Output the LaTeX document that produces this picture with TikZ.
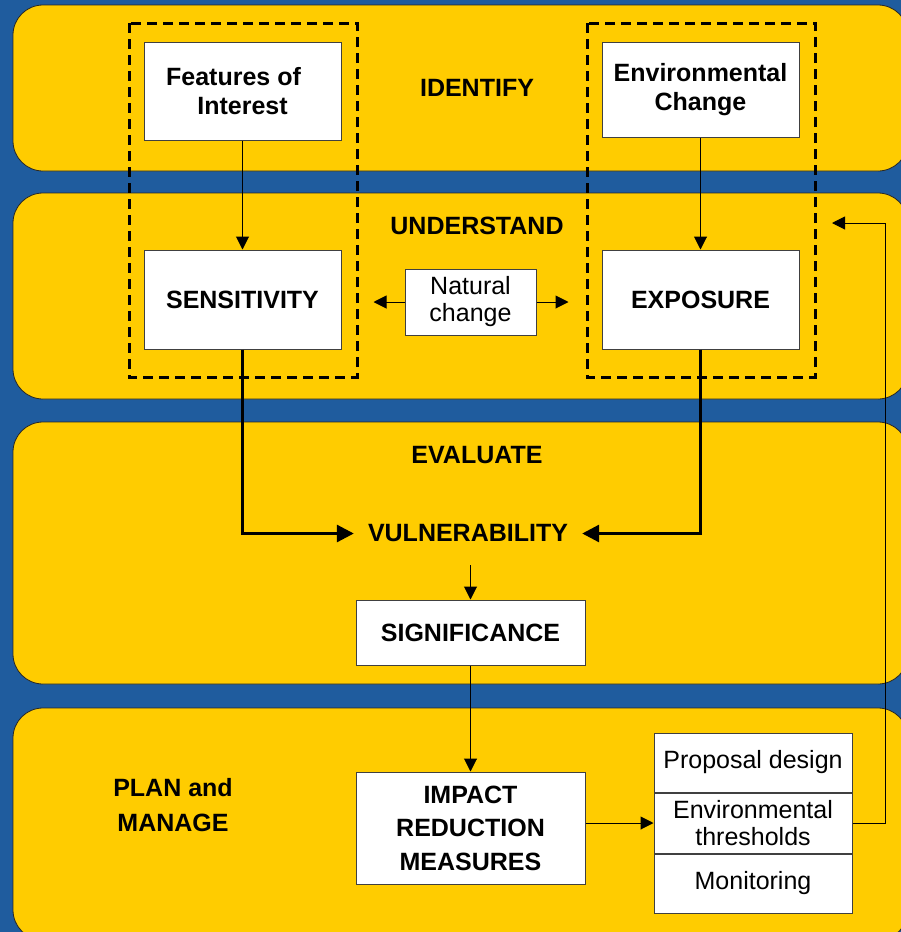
\documentclass[tikz,border=0pt]{standalone}
\usepackage{fontspec}
\setmainfont{Liberation Sans}
\usepackage{tikz}
\usetikzlibrary{positioning,arrows.meta}
\definecolor{bandblue}{RGB}{31,92,158}
\definecolor{bandyellow}{RGB}{255,204,0}
\tikzset{
  % --- stage bands -----------------------------------------------------------
  band/.style={fill=bandyellow,draw=black!85,line width=0.8pt,rounded corners=30pt},
  stage/.style={font=\fontsize{25}{35}\selectfont\bfseries,inner sep=0pt,align=center},
  % --- boxes -----------------------------------------------------------------
  box/.style={draw=black!75,line width=1pt,fill=white,align=center,inner sep=2pt,
              font=\fontsize{25}{29}\selectfont\bfseries},
  subbox/.style={box,font=\fontsize{25}{27}\selectfont,minimum width=198pt},
  grp/.style={draw=black,line width=3pt,dash pattern=on 10pt off 6pt},
  % --- links -----------------------------------------------------------------
  ln/.style={-{Triangle[length=13pt,width=13pt]},line width=1pt},
  thk/.style={-{Triangle[length=17pt,width=17pt]},line width=3pt},
}

\begin{document}
\begin{tikzpicture}[x=1pt,y=-1pt]
  \useasboundingbox (0,0) rectangle (901,932);
  \clip (0,0) rectangle (901,932);
  \fill[bandblue] (0,0) rectangle (901,932);
  % four stages
  \draw[band] (13,5) rectangle (908,171);
  \draw[band] (13,193) rectangle (908,399);
  \draw[band] (13,422) rectangle (908,684);
  \draw[band] (13,708) rectangle (908,940);
  \node[stage] (idf) at (477,88) {IDENTIFY};
  \node[stage] (und) at (477,226) {UNDERSTAND};
  \node[stage] (evl) at (477,455) {EVALUATE};
  \node[stage] (plan) at (173,805) {PLAN and\\MANAGE};
  % receptor / pressure columns
  \draw[grp] (129,23) rectangle (357,377);
  \draw[grp] (587,23) rectangle (815,377);
  \node[box,minimum width=197pt,minimum height=98pt] (feat) at (242.5,91) {Features of\hspace*{18pt}\\Interest};
  \node[box,minimum width=197pt,minimum height=95pt] (envc) at (700.5,89.5) {Environmental\\Change};
  \node[box,minimum width=197pt,minimum height=99pt] (sens) at (242.5,299.5) {SENSITIVITY};
  \node[box,minimum width=197pt,minimum height=99pt] (expo) at (700.5,299.5) {EXPOSURE};
  \node[box,font=\fontsize{25}{27}\selectfont,minimum width=131pt,minimum height=66pt] (nat) at (470.5,302) {Natural\\change};
  \node[stage,inner xsep=14pt,inner ysep=23pt] (vul) at (468,533.5) {VULNERABILITY};
  \node[box,minimum width=229pt,minimum height=65pt] (sig) at (470.5,632.5) {SIGNIFICANCE};
  \node[box,font=\fontsize{25}{33.5}\selectfont\bfseries,minimum width=229pt,minimum height=112pt] (imp) at (470.5,828) {IMPACT\\REDUCTION\\MEASURES};
  \node[subbox,minimum height=59pt] (prop) at (753,762.5) {Proposal design};
  \node[subbox,minimum height=60pt,below=0pt of prop] (thr) {Environmental\\thresholds};
  \node[subbox,minimum height=59pt,below=0pt of thr] (mon) {Monitoring};
  % links
  \draw[ln] (feat) -- (sens);
  \draw[ln] (envc) -- (expo);
  \draw[ln,shorten >=32pt] (nat.west) -- (nat.west -| sens.east);
  \draw[ln,shorten >=33pt] (nat.east) -- (nat.east -| expo.west);
  \draw[thk] (sens.south) |- (vul.west);
  \draw[thk] (expo.south) |- (vul.east);
  \draw[ln] (sig.north |- vul.south) -- (sig.north);
  \draw[ln] (sig) -- (imp);
  \draw[ln] (imp.east |- thr.west) -- (thr.west);
  \coordinate (fb) at (832,223);
  \draw[ln] (thr.east) -- ++(33,0) |- (fb);
\end{tikzpicture}
\end{document}
